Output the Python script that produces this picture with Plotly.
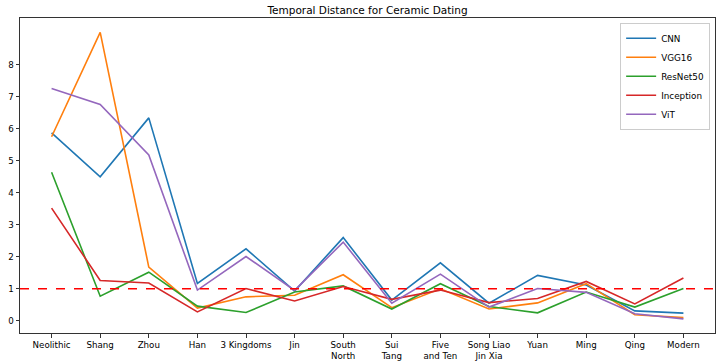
import plotly.graph_objects as go

periods = ["Neolithic", "Shang", "Zhou", "Han", "3 Kingdoms", "Jin", "South<br>North",
           "Sui<br>Tang", "Five<br>and Ten", "Song Liao<br>Jin Xia", "Yuan", "Ming", "Qing", "Modern"]
cnn = [5.87, 4.5, 6.34, 1.17, 2.25, 0.93, 2.6, 0.65, 1.81, 0.55, 1.42, 1.12, 0.31, 0.24]
vgg16 = [5.75, 9.01, 1.68, 0.4, 0.75, 0.8, 1.44, 0.41, 1.0, 0.37, 0.56, 1.16, 0.19, 0.1]
resnet50 = [4.64, 0.77, 1.52, 0.46, 0.26, 0.9, 1.09, 0.37, 1.16, 0.45, 0.25, 0.9, 0.43, 1.01]
inception = [3.52, 1.26, 1.18, 0.28, 1.01, 0.62, 1.07, 0.67, 0.96, 0.57, 0.7, 1.23, 0.53, 1.34]
vit = [7.26, 6.76, 5.18, 0.96, 2.01, 0.95, 2.46, 0.55, 1.46, 0.43, 1.01, 0.89, 0.22, 0.06]
threshold = 1.0

series = [("CNN", cnn, "#1f77b4"), ("VGG16", vgg16, "#ff7f0e"), ("ResNet50", resnet50, "#2ca02c"),
          ("Inception", inception, "#d62728"), ("ViT", vit, "#9467bd")]

x = list(range(len(periods)))
fig = go.Figure()
for name, vals, col in series:
    fig.add_trace(go.Scatter(x=x, y=vals, mode="lines", name=name,
                             line=dict(color=col, width=1.6)))

fig.add_hline(y=threshold, line=dict(color="#ff0000", width=1.6, dash="dash"))

axis_common = dict(showline=True, linecolor="#333333", linewidth=1, mirror=True,
                   ticks="outside", ticklen=3.5, tickcolor="#333333", showgrid=False,
                   zeroline=False, automargin=False, tickfont=dict(size=8.7, color="black"))
fig.update_xaxes(tickvals=x, ticktext=periods, range=[-0.65, 13.65], **axis_common)
fig.update_yaxes(tickvals=list(range(0, 9)), range=[-0.38, 9.46], **axis_common)

fig.update_layout(
    width=722, height=362,
    margin=dict(l=20, r=7, t=18, b=29),
    paper_bgcolor="white", plot_bgcolor="white",
    font=dict(family="DejaVu Sans", color="black"),
    title=dict(text="Temporal Distance for Ceramic Dating", x=0.5, xanchor="center",
               xref="paper", y=0.972, yanchor="middle", font=dict(size=10.5)),
    legend=dict(x=0.993, xanchor="right", y=0.985, yanchor="top",
                bgcolor="white", bordercolor="#cccccc", borderwidth=1,
                font=dict(size=8.8), tracegroupgap=0, itemwidth=30),
)

fig.write_html("out.html")
